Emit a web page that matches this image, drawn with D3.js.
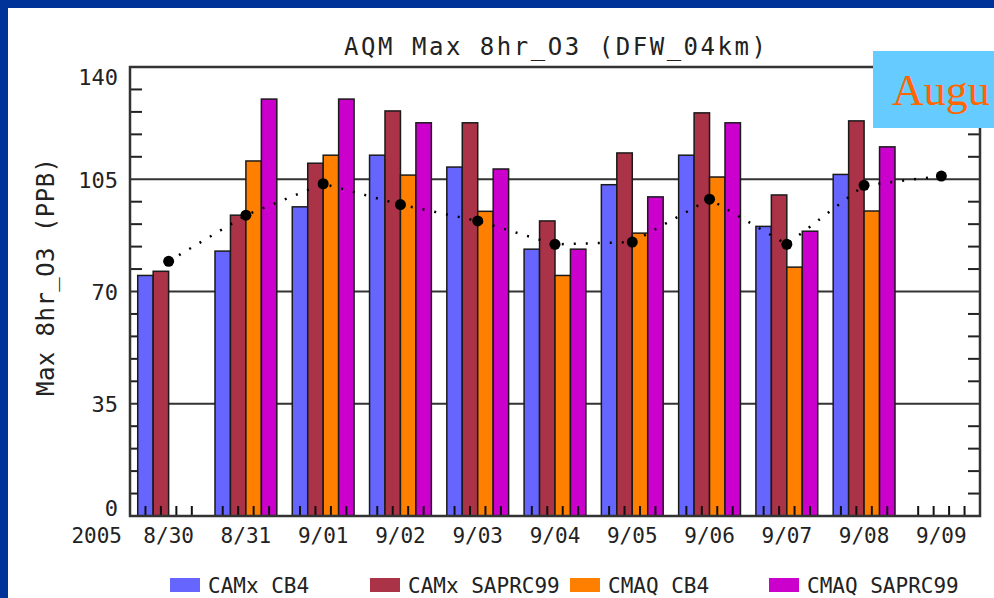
<!DOCTYPE html>
<html>
<head>
<meta charset="utf-8">
<script src="https://cdnjs.cloudflare.com/ajax/libs/d3/7.8.5/d3.min.js"></script>
<style>
  body { margin: 0; background: #003399; }
  svg { display: block; }
  text { font-family: "DejaVu Sans Mono", monospace; fill: #222; }
</style>
</head>
<body>
<div id="chart"></div>
<script>
// days on the x axis
var days = ["8/30", "8/31", "9/01", "9/02", "9/03", "9/04", "9/05", "9/06", "9/07", "9/08", "9/09"];
var seriesNames = ["CAMx CB4", "CAMx SAPRC99", "CMAQ CB4", "CMAQ SAPRC99"];
var seriesColors = ["#6666FF", "#AA3347", "#FF8000", "#CC00CC"];

// model values (PPB), null = no bar
var camxCB4    = [75.0, 82.6, 96.4, 112.5, 108.8, 83.2, 103.3, 112.5, 90.3, 106.5, null];
var camxSAPRC  = [76.3, 93.8, 110.0, 126.3, 122.6, 92.0, 113.2, 125.7, 100.1, 123.2, null];
var cmaqCB4    = [null, 110.7, 112.5, 106.3, 95.0, 75.0, 88.2, 105.7, 77.6, 95.1, null];
var cmaqSAPRC  = [null, 130.0, 130.0, 122.6, 108.2, 83.2, 99.5, 122.6, 88.8, 115.1, null];
// observed (dotted line with dots)
var observed   = [79.4, 93.8, 103.6, 97.1, 92.0, 84.7, 85.4, 98.8, 84.7, 103.1, 106.0];

var yTicks = [0, 35, 70, 105, 140];

var svgWidth = 994, svgHeight = 598;
var margin = { top: 67, right: 14, bottom: 82, left: 130 };
var width = svgWidth - margin.left - margin.right;
var height = svgHeight - margin.top - margin.bottom;

var svg = d3.select("#chart").append("svg")
  .attr("width", svgWidth)
  .attr("height", svgHeight);

// white slide panel over blue border
svg.append("rect")
  .attr("x", 8).attr("y", 8)
  .attr("width", svgWidth - 8).attr("height", svgHeight - 8)
  .attr("fill", "#fff");

var chartGroup = svg.append("g")
  .attr("transform", `translate(${margin.left}, ${margin.top})`);

var x = d3.scaleBand().domain(days).range([0, width]);
var xInner = d3.scaleBand().domain(seriesNames)
  .range([x.bandwidth() * 0.1, x.bandwidth() * 0.9]);
var y = d3.scaleLinear().domain([0, 140]).range([height, 0]);

var allSeries = [camxCB4, camxSAPRC, cmaqCB4, cmaqSAPRC];

// minor ticks on left and right (every 7)
var minor = d3.range(7, 140, 7).filter(d => d % 35 !== 0);
chartGroup.selectAll(".ltick").data(minor).enter().append("line")
  .attr("x1", 0).attr("x2", 12)
  .attr("y1", d => y(d)).attr("y2", d => y(d))
  .attr("stroke", "#222").attr("stroke-width", 2);
chartGroup.selectAll(".rtick").data(minor).enter().append("line")
  .attr("x1", width - 12).attr("x2", width)
  .attr("y1", d => y(d)).attr("y2", d => y(d))
  .attr("stroke", "#222").attr("stroke-width", 2);

// grid lines
chartGroup.selectAll(".grid").data([35, 70, 105]).enter().append("line")
  .attr("x1", 0).attr("x2", width)
  .attr("y1", d => y(d)).attr("y2", d => y(d))
  .attr("stroke", "#333").attr("stroke-width", 2);

// bars
var barData = [];
allSeries.forEach(function(vals, s) {
  vals.forEach(function(v, i) {
    if (v != null) barData.push({ day: days[i], series: seriesNames[s], color: seriesColors[s], value: v });
  });
});

chartGroup.selectAll(".bar").data(barData).enter().append("rect")
  .attr("x", d => x(d.day) + xInner(d.series))
  .attr("y", d => y(d.value))
  .attr("width", xInner.bandwidth())
  .attr("height", d => height - y(d.value))
  .attr("fill", d => d.color)
  .attr("stroke", "#1a1a1a")
  .attr("stroke-width", 1.5);

// bottom ticks at bar centres
var tickPos = [];
days.forEach(function(d) {
  seriesNames.forEach(function(s) { tickPos.push(x(d) + xInner(s) + xInner.bandwidth() / 2); });
});
chartGroup.selectAll(".xtick").data(tickPos).enter().append("line")
  .attr("x1", d => d).attr("x2", d => d)
  .attr("y1", height).attr("y2", height - 10)
  .attr("stroke", "#111").attr("stroke-width", 2);

// observed dotted line
var line = d3.line()
  .x((d, i) => x(days[i]) + x.bandwidth() / 2)
  .y(d => y(d));
chartGroup.append("path")
  .datum(observed)
  .attr("d", line)
  .attr("fill", "none")
  .attr("stroke", "#000")
  .attr("stroke-width", 2.5)
  .attr("stroke-dasharray", "2,10");
chartGroup.selectAll(".obs").data(observed).enter().append("circle")
  .attr("cx", (d, i) => x(days[i]) + x.bandwidth() / 2)
  .attr("cy", d => y(d))
  .attr("r", 5.5)
  .attr("fill", "#000");

// plot frame
chartGroup.append("rect")
  .attr("width", width).attr("height", height)
  .attr("fill", "none")
  .attr("stroke", "#333")
  .attr("stroke-width", 2.5);

// y tick labels (end labels kept inside the frame height)
chartGroup.selectAll(".ylab").data(yTicks).enter().append("text")
  .attr("x", -12)
  .attr("y", d => y(d))
  .attr("dy", d => d === 0 ? "0" : d === 140 ? "0.8em" : "0.38em")
  .attr("text-anchor", "end")
  .attr("font-size", 22)
  .text(d => d);

// x labels
chartGroup.selectAll(".xlab").data(days).enter().append("text")
  .attr("x", d => x(d) + x.bandwidth() / 2)
  .attr("y", height + 27)
  .attr("text-anchor", "middle")
  .attr("font-size", 21)
  .text(d => d);
chartGroup.append("text")
  .attr("x", -8)
  .attr("y", height + 27)
  .attr("text-anchor", "end")
  .attr("font-size", 21)
  .text("2005");

// title
svg.append("text")
  .attr("x", margin.left + width / 2)
  .attr("y", 55)
  .attr("text-anchor", "middle")
  .attr("font-size", 24)
  .attr("textLength", 422)
  .attr("lengthAdjust", "spacing")
  .text("AQM Max 8hr_O3 (DFW_04km)");

// y axis title
svg.append("text")
  .attr("transform", "translate(54, 277) rotate(-90)")
  .attr("text-anchor", "middle")
  .attr("font-size", 24)
  .attr("textLength", 238)
  .attr("lengthAdjust", "spacing")
  .text("Max 8hr_O3 (PPB)");

// legend
var legendX = [170, 370, 570, 769];
var legend = svg.selectAll(".legend").data(seriesNames).enter().append("g")
  .attr("transform", (d, i) => `translate(${legendX[i]}, 578)`);
legend.append("rect")
  .attr("width", 30).attr("height", 14)
  .attr("fill", (d, i) => seriesColors[i]);
legend.append("text")
  .attr("x", 38).attr("y", 15)
  .attr("font-size", 21)
  .text(d => d);

// slide overlay box
svg.append("rect")
  .attr("x", 873).attr("y", 51)
  .attr("width", 121).attr("height", 77)
  .attr("fill", "#66CCFF");
svg.append("text")
  .attr("x", 892).attr("y", 105)
  .attr("font-size", 44)
  .style("font-family", "'Liberation Serif', serif")
  .style("fill", "#FF6600")
  .text("Augu");
</script>
</body>
</html>
